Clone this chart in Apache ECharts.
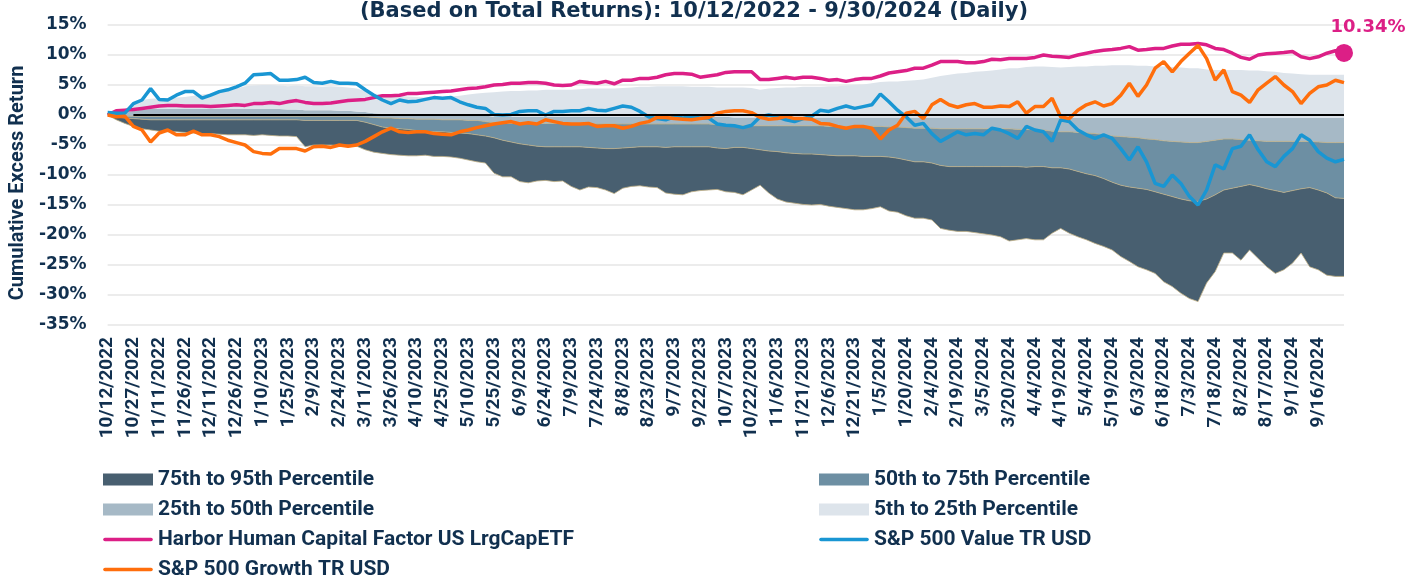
<!DOCTYPE html>
<html>
<head>
<meta charset="utf-8">
<script src="https://cdn.jsdelivr.net/npm/echarts@6/dist/echarts.min.js"></script>
<style>
  html, body { margin: 0; padding: 0; background: #fff; }
  #chart { width: 1408px; height: 575px; }
</style>
</head>
<body>
<div id="chart"></div>
<script>
// dates every 5 calendar days from 10/12/2022, last point is 9/30/2024
var dates = [];
for (var k = 0; k < 145; k++) {
  var d = new Date(Date.UTC(2022, 9, 12 + k * 5));
  dates.push((d.getUTCMonth() + 1) + "/" + d.getUTCDate() + "/" + d.getUTCFullYear());
}
dates[144] = "9/30/2024";

var yTicks = [15, 10, 5, 0, -5, -10, -15, -20, -25, -30, -35];

// percentile boundaries (cumulative excess return, %)
var p5 = [0,0.5,1.0,1.8,2.5,2.7,2.8,2.8,2.9,3.0, 3.2,3.4,3.6,3.8,4.0,4.4,4.8,4.9,5.0,5.0,
  4.9,4.8,4.9,4.8,4.8,4.7,4.8,4.7,4.6,4.4, 4.0,3.6,3.4,3.3,3.2,3.1,3.0,2.9,3.0,3.0,
  3.1,3.2,3.4,3.6,3.7,3.8,3.9,4.0,4.0,4.1, 4.1,4.2,4.2,4.2,4.2,4.3,4.4,4.4,4.4,4.4,
  4.5,4.6,4.7,4.7,4.8,4.8,4.8,4.8,4.7,4.7, 4.7,4.6,4.6,4.6,4.6,4.5,4.2,4.4,4.5,4.6,
  4.6,4.7,4.7,4.7,4.8,4.8,4.9,5.0,5.1,5.3, 5.5,5.6,5.6,5.7,5.8,5.9,6.2,6.5,6.7,6.9,
  7.0,7.2,7.3,7.4,7.6,7.8,7.8,8.0,8.1,8.1, 8.0,7.9,8.0,8.1,8.1,8.2,8.2,8.3,8.3,8.3,
  8.2,8.2,8.1,8.1,8.0,7.9,7.8,7.8,7.6,7.5, 7.5,7.5,7.5,7.4,7.4,7.3,7.2,7.0,6.9,6.8,
  6.7,6.7,6.7,6.7,6.7];
var p25 = [0,0.2,0.4,0.7,0.9,1.0,1.0,1.0,1.0,1.0, 1.0,1.0,1.0,1.0,1.0,1.0,1.0,1.0,1.0,1.0,
  1.0,0.9,0.9,0.8,0.8,0.8,0.8,0.7,0.7,0.6, 0.5,0.3,0.2,0.2,0.1,0.1,0.0,-0.1,-0.1,-0.1,
  -0.1,-0.1,-0.1,-0.1,-0.1,-0.3,-0.3,-0.3,-0.3,-0.3, -0.3,-0.3,-0.3,-0.3,-0.3,-0.3,-0.3,-0.3,-0.3,-0.3,
  -0.3,-0.3,-0.3,-0.3,-0.3,-0.3,-0.3,-0.3,-0.3,-0.3, -0.3,-0.3,-0.3,-0.4,-0.4,-0.4,-0.4,-0.4,-0.4,-0.4,
  -0.4,-0.4,-0.4,-0.4,-0.4,-0.4,-0.4,-0.4,-0.4,-0.4, -0.4,-0.4,-0.4,-0.4,-0.4,-0.4,-0.4,-0.4,-0.4,-0.4,
  -0.4,-0.4,-0.4,-0.4,-0.4,-0.4,-0.4,-0.4,-0.4,-0.5, -0.5,-0.5,-0.5,-0.5,-0.5,-0.5,-0.5,-0.5,-0.5,-0.5,
  -0.5,-0.5,-0.5,-0.5,-0.5,-0.5,-0.5,-0.5,-0.5,-0.5, -0.5,-0.5,-0.5,-0.5,-0.5,-0.5,-0.5,-0.5,-0.5,-0.5,
  -0.5,-0.5,-0.5,-0.5,-0.5];
var p50 = [0,-0.1,-0.2,-0.2,-0.2,-0.2,-0.2,-0.2,-0.2,-0.2, -0.2,-0.2,-0.2,-0.2,-0.2,-0.2,-0.2,-0.2,-0.2,-0.2,
  -0.2,-0.2,-0.2,-0.2,-0.2,-0.2,-0.2,-0.2,-0.2,-0.2, -0.3,-0.4,-0.5,-0.5,-0.6,-0.6,-0.7,-0.7,-0.7,-0.8,
  -0.8,-0.8,-0.9,-0.9,-1.1,-1.3,-1.4,-1.4,-1.4,-1.4, -1.4,-1.4,-1.4,-1.4,-1.4,-1.4,-1.5,-1.5,-1.5,-1.5,
  -1.5,-1.5,-1.5,-1.5,-1.5,-1.5,-1.5,-1.5,-1.5,-1.5, -1.5,-1.6,-1.6,-1.7,-1.8,-1.8,-1.8,-1.8,-1.8,-1.8,
  -1.8,-1.8,-1.8,-1.8,-1.9,-1.9,-1.9,-1.9,-1.9,-1.9, -1.9,-2.0,-2.0,-2.1,-2.2,-2.2,-2.2,-2.3,-2.3,-2.3,
  -2.3,-2.3,-2.3,-2.3,-2.3,-2.3,-2.4,-2.4,-2.5,-2.5, -2.7,-2.8,-2.8,-2.9,-3.0,-3.1,-3.3,-3.5,-3.6,-3.7,
  -3.8,-4.0,-4.1,-4.3,-4.4,-4.5,-4.6,-4.6,-4.4,-4.2, -4.0,-4.0,-4.1,-4.2,-4.3,-4.4,-4.4,-4.4,-4.4,-4.4,
  -4.4,-4.5,-4.6,-4.6,-4.6];
var p75 = [0,-0.3,-0.5,-0.6,-0.7,-0.8,-0.8,-0.8,-0.8,-0.8, -0.8,-0.8,-0.8,-0.8,-0.8,-0.8,-0.8,-0.8,-0.8,-0.8,
  -0.8,-0.8,-0.8,-0.9,-0.9,-0.9,-0.9,-0.9,-0.9,-0.9, -1.2,-1.6,-2.0,-2.2,-2.3,-2.4,-2.6,-2.8,-2.8,-2.8,
  -2.9,-3.0,-3.1,-3.3,-3.5,-3.8,-4.2,-4.5,-4.8,-5.0, -5.2,-5.3,-5.3,-5.3,-5.3,-5.3,-5.4,-5.5,-5.6,-5.6,
  -5.5,-5.4,-5.3,-5.3,-5.3,-5.4,-5.3,-5.3,-5.3,-5.3, -5.3,-5.5,-5.6,-5.4,-5.4,-5.6,-5.8,-6.0,-6.1,-6.3,
  -6.4,-6.5,-6.5,-6.6,-6.7,-6.8,-6.8,-6.8,-6.9,-6.9, -6.9,-7.0,-7.2,-7.5,-7.8,-7.8,-8.0,-8.4,-8.6,-8.6,
  -8.6,-8.6,-8.6,-8.6,-8.6,-8.6,-8.6,-8.7,-8.6,-8.6, -8.8,-8.8,-9.0,-9.4,-9.8,-10.1,-10.6,-11.2,-11.7,-12.0,
  -12.2,-12.4,-12.8,-13.2,-13.6,-14.0,-14.3,-14.4,-14.0,-13.3, -12.5,-12.2,-11.9,-11.6,-11.9,-12.3,-12.6,-12.9,-12.6,-12.3,
  -12.1,-12.5,-13.0,-13.8,-13.9];
var p95 = [0,-0.8,-1.4,-1.9,-2.3,-2.5,-2.7,-2.8,-2.8,-2.9, -3.0,-3.1,-3.1,-3.2,-3.3,-3.3,-3.3,-3.4,-3.3,-3.4,
  -3.5,-3.5,-3.6,-5.3,-5.0,-5.0,-5.0,-5.1,-5.0,-5.2, -5.8,-6.2,-6.4,-6.6,-6.7,-6.8,-6.8,-6.7,-6.9,-6.9,
  -7.0,-7.2,-7.5,-7.8,-8.0,-9.7,-10.3,-10.3,-11.1,-11.3, -11.0,-10.9,-11.1,-11.0,-11.9,-12.5,-12.0,-12.1,-12.5,-13.1,
  -12.2,-11.9,-11.8,-12.0,-12.1,-13.0,-13.2,-13.3,-12.8,-12.6, -12.5,-12.4,-12.8,-12.9,-13.3,-12.5,-11.7,-13.0,-14.0,-14.5,
  -14.7,-14.9,-15.0,-14.9,-15.2,-15.4,-15.6,-15.8,-15.8,-15.6, -15.3,-16.0,-16.2,-16.8,-17.2,-17.2,-17.5,-18.9,-19.2,-19.4,
  -19.4,-19.6,-19.8,-20.0,-20.3,-21.0,-20.8,-20.6,-20.8,-20.8, -19.7,-18.9,-19.7,-20.3,-20.8,-21.4,-21.9,-22.5,-23.6,-24.4,
  -25.3,-25.8,-26.4,-27.8,-28.6,-29.7,-30.6,-31.1,-28.0,-26.1, -23.0,-23.0,-24.2,-22.5,-23.9,-25.3,-26.4,-25.8,-24.7,-23.0,
  -25.3,-25.8,-26.7,-26.9,-26.9];

var harbor = [0.0,0.7,0.8,0.9,1.1,1.3,1.5,1.6,1.6,1.5, 1.5,1.5,1.4,1.5,1.6,1.7,1.6,1.9,1.9,2.1,
  1.9,2.2,2.4,2.1,1.9,1.9,2.0,2.2,2.4,2.5, 2.6,2.9,3.2,3.2,3.3,3.6,3.6,3.7,3.8,3.9,
  4.0,4.2,4.4,4.5,4.7,5.0,5.1,5.3,5.3,5.4, 5.4,5.3,5.0,4.9,5.0,5.6,5.4,5.3,5.6,5.2,
  5.8,5.8,6.1,6.1,6.3,6.7,6.9,6.9,6.8,6.3, 6.5,6.7,7.1,7.2,7.2,7.2,5.9,5.9,6.1,6.3,
  6.1,6.3,6.3,6.1,5.8,5.9,5.6,5.9,6.1,6.1, 6.5,7.0,7.2,7.4,7.8,7.8,8.3,8.9,8.9,8.9,
  8.7,8.7,8.9,9.3,9.2,9.4,9.4,9.4,9.6,10.0, 9.8,9.7,9.6,10.0,10.3,10.6,10.8,10.9,11.1,11.4,
  10.8,10.9,11.1,11.1,11.5,11.8,11.8,11.9,11.7,11.1, 10.9,10.3,9.6,9.3,10.0,10.2,10.3,10.4,10.6,9.7,
  9.4,9.7,10.3,10.7,10.34];
var spValue = [0.4,0.3,0.3,1.9,2.5,4.4,2.6,2.5,3.3,3.9, 3.9,2.8,3.3,3.9,4.2,4.7,5.3,6.7,6.8,6.9,
  5.8,5.8,5.9,6.3,5.4,5.3,5.6,5.3,5.3,5.2, 4.2,3.3,2.5,1.9,2.5,2.2,2.3,2.6,2.9,2.8,
  2.9,2.2,1.7,1.3,1.1,0.1,0.0,0.1,0.6,0.7, 0.7,0.0,0.6,0.6,0.7,0.7,1.1,0.8,0.7,1.1,
  1.5,1.3,0.6,-0.3,-0.6,-0.8,-0.3,-0.5,-0.3,-0.5, -0.5,-1.5,-1.7,-1.8,-2.1,-1.7,-0.3,0.0,-0.3,-0.8,
  -1.1,-0.6,-0.2,0.8,0.6,1.1,1.5,1.1,1.4,1.7, 3.5,2.2,0.8,-0.3,-1.7,-1.4,-3.1,-4.4,-3.6,-2.8,
  -3.3,-3.1,-3.3,-2.2,-2.5,-3.1,-3.9,-1.9,-2.5,-2.8, -4.4,-0.8,-1.1,-2.5,-3.3,-3.9,-3.3,-3.9,-5.6,-7.5,
  -5.3,-7.8,-11.4,-11.9,-10.0,-11.4,-13.6,-15.0,-12.5,-8.3, -9.0,-5.6,-5.2,-3.3,-5.8,-7.8,-8.6,-6.9,-5.6,-3.3,
  -4.2,-6.1,-7.2,-7.8,-7.4];
var spGrowth = [0.0,-0.3,-0.2,-1.9,-2.5,-4.5,-3.0,-2.5,-3.3,-3.3, -2.7,-3.3,-3.3,-3.6,-4.2,-4.6,-5.0,-6.1,-6.4,-6.5,
  -5.6,-5.6,-5.6,-6.0,-5.3,-5.2,-5.4,-5.0,-5.2,-5.0, -4.4,-3.6,-2.8,-2.2,-2.8,-2.9,-2.8,-2.8,-3.1,-3.2,
  -3.3,-2.8,-2.5,-2.1,-1.8,-1.5,-1.3,-1.1,-1.5,-1.3, -1.5,-0.8,-1.1,-1.4,-1.5,-1.5,-1.4,-1.9,-1.8,-1.8,
  -2.2,-1.9,-1.4,-1.1,-0.4,-0.4,-0.6,-0.7,-0.8,-0.6, -0.4,0.3,0.6,0.7,0.7,0.4,-0.4,-0.7,-0.6,-0.2,
  -0.6,-0.6,-0.7,-1.4,-1.5,-1.9,-2.2,-1.9,-1.9,-2.2, -4.0,-2.5,-1.7,0.3,0.6,-0.6,1.7,2.6,1.7,1.3,
  1.7,1.9,1.3,1.3,1.5,1.4,2.2,0.3,1.4,1.4, 2.8,-0.3,-0.6,0.8,1.7,2.2,1.5,1.9,3.3,5.3,
  3.1,5.0,7.8,8.9,7.2,8.9,10.3,11.6,9.4,5.8, 7.5,3.9,3.3,2.1,4.2,5.3,6.4,5.0,3.9,1.9,
  3.6,4.7,5.0,5.8,5.4];

var navy = "#11304f";
var pink = "#dc1f86";
var bandNames = ["75th to 95th Percentile", "50th to 75th Percentile", "25th to 50th Percentile", "5th to 25th Percentile"];
var bandColors = ["#485f70", "#6d8fa3", "#a6b9c6", "#dde4eb"];
var lineIcon = "path://M0,0M50,12M2,4.2L48,4.2A1.8,1.8,0,0,1,48,7.8L2,7.8A1.8,1.8,0,0,1,2,4.2Z";

function diff(a, b) {
  return a.map(function (v, i) { return Math.round((v - b[i]) * 100) / 100; });
}

function band(name, data, color, edge) {
  return {
    name: name, type: "line", stack: "pct", stackStrategy: "all",
    data: data, symbol: "none", z: 1,
    color: color,
    lineStyle: { width: edge ? 0.8 : 0, color: "#bfae84" },
    areaStyle: { color: color, opacity: 1 },
    emphasis: { disabled: true }, silent: true
  };
}

var legendText = { color: navy, fontSize: 21, fontWeight: "bold", fontFamily: "Roboto", lineHeight: 20 };
var last = harbor.length - 1;

var chart = echarts.init(document.getElementById("chart"), null, { renderer: "canvas" });
chart.setOption({
  animation: false,
  textStyle: { fontFamily: "Roboto" },
  grid: { left: 103, right: 64, top: 25, bottom: 250 },
  graphic: [{
    type: "text", x: 694, y: 1,
    style: { text: "(Based on Total Returns): 10/12/2022 - 9/30/2024 (Daily)", fill: navy,
      font: "bold 21px 'DejaVu Sans'", textAlign: "center", textVerticalAlign: "top" }
  }],
  legend: [{
    orient: "vertical", left: 103, top: 469, height: 220, padding: 0,
    itemWidth: 50, itemHeight: 12, itemGap: 9,
    itemStyle: { borderWidth: 0 }, textStyle: legendText,
    data: [{ name: bandNames[0], icon: "rect" }, { name: bandNames[2], icon: "rect" },
      { name: "Harbor Human Capital Factor US LrgCapETF", icon: lineIcon },
      { name: "S&P 500 Growth TR USD", icon: lineIcon }]
  }, {
    orient: "vertical", left: 819, top: 469, height: 220, padding: 0,
    itemWidth: 50, itemHeight: 12, itemGap: 9,
    itemStyle: { borderWidth: 0 }, textStyle: legendText,
    data: [{ name: bandNames[1], icon: "rect" }, { name: bandNames[3], icon: "rect" },
      { name: "S&P 500 Value TR USD", icon: lineIcon }]
  }],
  xAxis: {
    type: "category", data: dates, boundaryGap: false,
    axisLine: { show: false, onZero: false }, axisTick: { show: false },
    axisLabel: {
      rotate: 90, margin: 12, color: navy, fontSize: 19, fontWeight: "bold",
      interval: function (idx) { return idx % 3 === 0 && idx < dates.length - 1; }
    },
    splitLine: { show: false }
  },
  yAxis: {
    type: "value", min: yTicks[yTicks.length - 1], max: yTicks[0], interval: 5,
    name: "Cumulative Excess Return", nameLocation: "middle", nameGap: 74,
    nameTextStyle: { color: navy, fontSize: 20, fontWeight: "bold", padding: [0, 0, 0, -16] },
    axisLine: { show: false }, axisTick: { show: false },
    axisLabel: { margin: 21, color: navy, fontSize: 17, fontWeight: "bold", fontFamily: "DejaVu Sans", formatter: "{value}%" },
    splitLine: { lineStyle: { color: "#ececec", width: 2 } }
  },
  series: [
    {
      name: "base", type: "line", stack: "pct", stackStrategy: "all", data: p95, symbol: "none", z: 1,
      lineStyle: { width: 0.8, color: "#bfae84" }, silent: true
    },
    band(bandNames[0], diff(p75, p95), bandColors[0], true),
    band(bandNames[1], diff(p50, p75), bandColors[1], true),
    band(bandNames[2], diff(p25, p50), bandColors[2], false),
    Object.assign(band(bandNames[3], diff(p5, p25), bandColors[3], false), {
      markLine: {
        silent: true, symbol: "none", label: { show: false },
        lineStyle: { color: "#000", width: 2, type: "solid" },
        data: [[{ coord: [3, 0] }, { coord: [144, 0] }]]
      }
    }),
    {
      name: "Harbor Human Capital Factor US LrgCapETF", type: "line", data: harbor, z: 3,
      symbol: "none", color: pink, lineStyle: { width: 3.5 },
      markPoint: {
        silent: true, symbol: "circle", symbolSize: 18, itemStyle: { color: pink },
        label: {
          show: true, position: "top", distance: 4, offset: [24, -4],
          formatter: "{c}%", color: pink, fontSize: 18, fontWeight: "bold", fontFamily: "DejaVu Sans"
        },
        data: [{ coord: [last, harbor[last]], value: harbor[last] }]
      }
    },
    {
      name: "S&P 500 Value TR USD", type: "line", data: spValue, z: 3,
      symbol: "none", color: "#1996d3", lineStyle: { width: 3.5 }
    },
    {
      name: "S&P 500 Growth TR USD", type: "line", data: spGrowth, z: 3,
      symbol: "none", color: "#ff6e0c", lineStyle: { width: 3.5 }
    }
  ]
});
</script>
</body>
</html>
